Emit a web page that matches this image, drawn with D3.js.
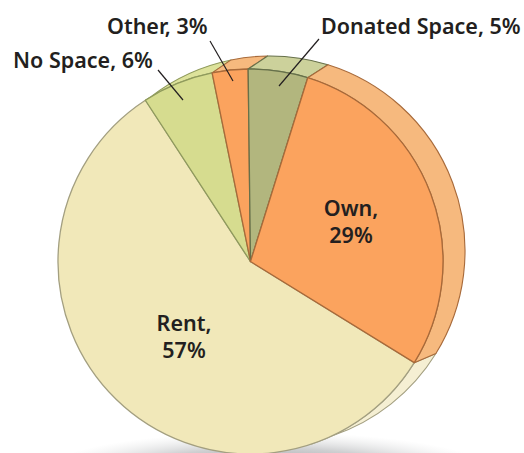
<!DOCTYPE html>
<html>
<head>
<meta charset="utf-8">
<script src="https://cdn.jsdelivr.net/npm/d3@7"></script>
<style>
  html, body { margin: 0; padding: 0; background: #fff; }
  svg { display: block; }
  text { font-family: "Noto Sans", sans-serif; font-weight: 600; fill: #231f20; }
</style>
</head>
<body>
<script>
// data, clockwise from the top
const categories = ["Donated Space", "Own", "Rent", "No Space", "Other"];
const shares = [5, 29, 57, 6, 3];

const frontColors = ["#b2b67e", "#fba35e", "#f1e8b9", "#d6dc8f", "#fba35e"];
const sideColors = ["#ccd19b", "#f6b97e", "#f5efd3", "#dde29b", "#f6b97e"];
const strokeColors = ["#66704a", "#a86a3a", "#a39f80", "#8f9a5c", "#a86a3a"];

const width = 524, height = 453;
const radius = 192.5, backRadius = 195;
const front = {x: 250.5, y: 261.5};
const back = {x: 270, y: 251};
const deg = Math.PI / 180;

const svg = d3.select("body").append("svg")
  .attr("width", width)
  .attr("height", height);

// soft shadow under the pie
const shadow = svg.append("defs").append("radialGradient").attr("id", "shadow");
shadow.append("stop").attr("offset", "0%").attr("stop-color", "#77787b").attr("stop-opacity", 0.9);
shadow.append("stop").attr("offset", "60%").attr("stop-color", "#a7a9ac").attr("stop-opacity", 0.55);
shadow.append("stop").attr("offset", "100%").attr("stop-color", "#d1d3d4").attr("stop-opacity", 0);

svg.append("ellipse")
  .attr("cx", 268)
  .attr("cy", 472)
  .attr("rx", 225)
  .attr("ry", 40)
  .attr("fill", "url(#shadow)");

const startAngle = -0.7 * deg;
const pie = d3.pie()
  .sort(null)
  .startAngle(startAngle)
  .endAngle(startAngle + 2 * Math.PI);
const slices = pie(shares);

const arc = d3.arc().innerRadius(0);

function pointAt(c, r, a) {
  return [c.x + r * Math.sin(a), c.y - r * Math.cos(a)];
}

// the back disc only shows between the two points where it crosses the front
// disc, so Rent stops at the lower crossing and No Space starts at the upper one
const bandStart = d => d.index === 3 ? 322 * deg : d.startAngle;
const bandEnd = d => d.index === 2 ? 161.5 * deg : d.endAngle;

// the band between the back disc and the front disc
function band(d) {
  const p = d3.path();
  const a0 = bandStart(d), a1 = bandEnd(d);
  const f0 = pointAt(front, radius, d.startAngle);
  const b0 = pointAt(back, backRadius, a0);
  const f1 = pointAt(front, radius, a1);
  p.moveTo(f0[0], f0[1]);
  p.lineTo(b0[0], b0[1]);
  p.arc(back.x, back.y, backRadius, a0 - Math.PI / 2, a1 - Math.PI / 2);
  p.lineTo(f1[0], f1[1]);
  p.arc(front.x, front.y, radius, a1 - Math.PI / 2, d.startAngle - Math.PI / 2, true);
  p.closePath();
  return p.toString();
}

// Rent goes first so its long band stays under the others
const bandOrder = [2, 3, 4, 0, 1];
svg.append("g").selectAll("path")
  .data(bandOrder.map(i => slices[i]))
  .enter().append("path")
  .attr("d", band)
  .attr("fill", d => sideColors[d.index])
  .attr("stroke", d => strokeColors[d.index])
  .attr("stroke-width", 1.1)
  .attr("stroke-linejoin", "round");

svg.append("g")
  .attr("transform", "translate(" + front.x + "," + front.y + ")")
  .selectAll("path")
  .data(bandOrder.map(i => slices[i]))
  .enter().append("path")
  .attr("d", d => arc.outerRadius(radius)(d))
  .attr("fill", d => frontColors[d.index])
  .attr("stroke", d => strokeColors[d.index])
  .attr("stroke-width", 1.3)
  .attr("stroke-linejoin", "round");

// leader lines and labels
const label = i => categories[i] + ", " + shares[i] + "%";

const leaders = [
  [[319, 39], [279, 86]],
  [[210, 41], [233, 81]],
  [[158, 70], [183, 100]]
];
svg.append("g").selectAll("line")
  .data(leaders)
  .enter().append("line")
  .attr("x1", d => d[0][0])
  .attr("y1", d => d[0][1])
  .attr("x2", d => d[1][0])
  .attr("y2", d => d[1][1])
  .attr("stroke", "#231f20")
  .attr("stroke-width", 1.2);

const outside = [
  {i: 0, x: 321, y: 34},
  {i: 4, x: 107, y: 34},
  {i: 3, x: 13, y: 68}
];
svg.append("g").selectAll("text")
  .data(outside)
  .enter().append("text")
  .attr("x", d => d.x)
  .attr("y", d => d.y)
  .style("font-size", "21.5px")
  .text(d => label(d.i));

const inside = [
  {i: 1, x: 351, y: 216},
  {i: 2, x: 184, y: 331}
];
inside.forEach(d => {
  const t = svg.append("text")
    .attr("text-anchor", "middle")
    .style("font-size", "21.5px");
  t.append("tspan").attr("x", d.x).attr("y", d.y).text(categories[d.i] + ",");
  t.append("tspan").attr("x", d.x).attr("y", d.y + 27).text(shares[d.i] + "%");
});
</script>
</body>
</html>
